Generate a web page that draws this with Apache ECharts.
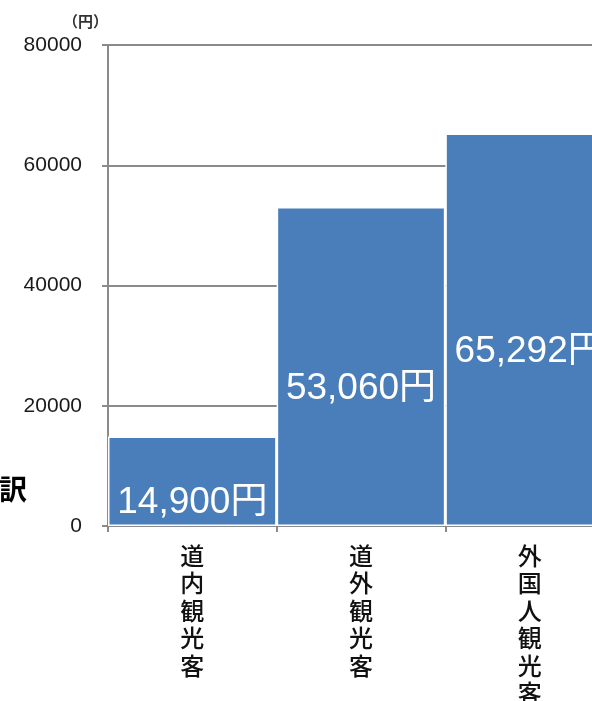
<!DOCTYPE html>
<html><head><meta charset="utf-8">
<script src="https://cdn.jsdelivr.net/npm/echarts@6/dist/echarts.min.js"></script>
<style>html,body{margin:0;padding:0;background:#fff;overflow:hidden;width:592px;height:701px}#c{width:614px;height:701px}</style>
</head><body><div id="c"></div>
<script>
const categories = ['道内観光客', '道外観光客', '外国人観光客'];
const values = [14900, 53060, 65292];
const yTicks = [0, 20000, 40000, 60000, 80000];
const unitLabel = '（円）';
const sideText = '訳';

const chart = echarts.init(document.getElementById('c'), null, {renderer: 'canvas'});
chart.setOption({
  animation: false,
  backgroundColor: '#fff',
  grid: {left: 108, top: 45, bottom: 175, right: 0, containLabel: false, outerBoundsMode: 'none'},
  xAxis: {
    type: 'category', data: categories,
    axisLine: {lineStyle: {color: '#8a8a8a', width: 2}},
    axisTick: {show: true, length: 6, lineStyle: {color: '#8a8a8a', width: 2}},
    axisLabel: {
      interval: 0, margin: 16, color: '#111', fontSize: 24, lineHeight: 27.5,
      fontFamily: 'Noto Sans CJK JP', fontWeight: 500, verticalAlign: 'top',
      formatter: v => v.split('').join('\n')
    }
  },
  yAxis: {
    type: 'value', min: yTicks[0], max: yTicks[yTicks.length - 1], interval: 20000,
    name: unitLabel, nameLocation: 'end', nameGap: 16,
    nameTextStyle: {align: 'right', fontSize: 15, fontWeight: 'bold', color: '#333', fontFamily: 'Noto Sans CJK JP'},
    axisLine: {show: true, lineStyle: {color: '#8a8a8a', width: 2}},
    axisTick: {show: true, length: 6, lineStyle: {color: '#8a8a8a', width: 2}},
    axisLabel: {margin: 26, color: '#1a1a1a', fontSize: 21, fontFamily: 'Liberation Sans', formatter: v => String(v)},
    splitLine: {show: true, lineStyle: {color: '#8a8a8a', width: 2}}
  },
  series: [{
    type: 'bar', data: values, barCategoryGap: 0,
    itemStyle: {color: '#4a7ebb', borderColor: '#fff', borderWidth: 1.5},
    label: {
      show: true, position: 'inside', offset: [0, 22], color: '#fff',
      fontSize: 37, fontFamily: 'Liberation Sans, Noto Sans CJK JP',
      formatter: p => p.value.toLocaleString('en-US') + '円'
    }
  }],
  graphic: [{
    type: 'text', left: -1, top: 475,
    style: {text: sideText, fontSize: 28, fontWeight: 'bold', fill: '#000', fontFamily: 'Noto Sans CJK JP'}
  }]
});
</script></body></html>
